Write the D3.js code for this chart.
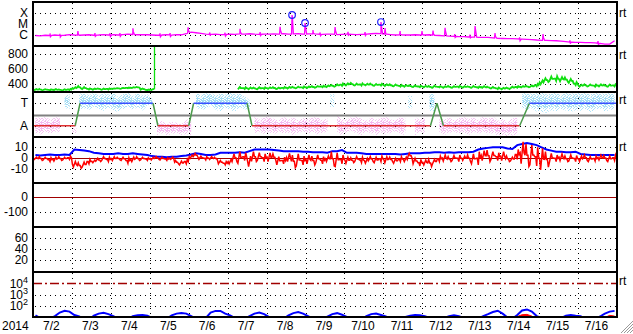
<!DOCTYPE html>
<html><head><meta charset="utf-8">
<script src="https://cdn.jsdelivr.net/npm/d3@7"></script>
<style>
html,body{margin:0;padding:0;background:#fff;}
svg{display:block;}
text{font-family:"Liberation Sans",Arial,sans-serif;font-size:12px;fill:#000;}
</style></head><body>
<svg id="c" width="633" height="334"></svg>
<script>
// ---------- DATA (3-hour bins from 2014-07-02 00:00 UT, 8 bins per day) ----------
const dayLabels = ["7/2","7/3","7/4","7/5","7/6","7/7","7/8","7/9","7/10","7/11","7/12","7/13","7/14","7/15","7/16"];
const yearLabel = "2014";

// X-ray flux, µW/m² (C1 = 1)
const xrayBase = [
 0.9,0.85,0.95,0.9,1.0,0.9,0.95,1.1,
 1.0,0.95,1.0,1.05,0.95,1.0,1.1,1.0,
 1.05,1.0,1.1,1.2,1.1,1.05,1.0,1.05,
 1.0,0.95,1.0,1.05,1.0,1.1,1.05,1.3,
 1.8,1.6,1.4,1.2,1.15,1.2,1.1,1.15,
 1.2,1.15,1.25,1.2,1.3,1.2,1.15,1.2,
 1.2,1.25,1.2,1.3,1.2,1.25,1.3,1.2,
 1.25,1.3,1.2,1.15,1.2,1.2,1.1,1.15,
 1.2,1.15,1.1,1.15,1.2,1.3,1.4,1.3,
 1.2,1.1,1.0,1.05,1.0,1.0,1.05,1.0,
 1.0,1.05,0.95,0.9,0.85,0.8,0.75,0.7,
 0.7,0.66,0.65,0.62,0.6,0.6,0.55,0.5,
 0.48,0.47,0.46,0.45,0.42,0.4,0.38,0.35,
 0.33,0.32,0.31,0.3,0.28,0.25,0.22,0.21,
 0.21,0.2,0.2,0.19,0.17,0.15,0.15,0.3];
// X-ray spikes: [hour, peak µW/m²]
const xraySpikes = [[10.5,1.4],[16.6,1.3],[27.7,2.3],[38.2,1.5],[47.5,1.45],[53.6,1.5],[61.6,4.0],[78.3,1.4],[84.5,1.5],[95.6,5.0],[109,1.7],[118.4,1.6],[127.6,3.7],[140,1.8],[152.3,5.6],[159.7,66],[167.7,12.3],[172.6,2.85],[177,1.7],[186.2,5.3],[194.2,1.9],[204.7,1.8],[214.5,15],[217,4.3],[226.3,2.3],[239.8,2.3],[246.6,2.5],[254,4.6],[260,1.2],[269.4,1.1],[272.5,6.6],[284.8,1.5],[300,0.6],[314.4,1.2],[331,0.32],[348.3,0.28]];

// Solar wind speed km/s (min / max per bin)
const speedLo = [
 325,322,326,320,324,322,320,325,
 340,345,338,332,330,334,330,332,
 340,342,345,348,352,355,330,322,
 325,null,null,null,null,null,null,null,
 null,null,null,null,null,null,null,null,
 null,null,335,338,335,338,336,340,
 340,342,340,345,345,348,350,350,
 352,355,360,362,365,370,375,380,
 385,388,385,384,386,382,380,384,
 378,376,374,370,368,366,364,362,
 360,358,356,360,355,358,356,360,
 356,358,355,352,355,350,345,338,
 335,338,348,356,360,362,365,375,
 400,430,440,445,440,435,420,390,
 370,372,375,370,372,374,370,372];
const speedHi = [
 338,340,336,335,338,334,336,340,
 362,378,365,348,345,346,344,348,
 348,350,354,358,362,366,345,332,
 340,null,null,null,null,null,null,null,
 null,null,null,null,null,null,null,null,
 null,null,365,362,360,358,362,360,
 360,362,358,365,366,368,370,372,
 372,375,378,382,385,392,400,410,
 412,418,410,412,408,410,405,408,
 402,400,398,392,390,388,385,382,
 380,378,382,376,374,378,376,380,
 376,374,378,372,375,370,365,358,
 355,358,370,376,378,380,385,405,
 450,480,500,505,495,490,470,430,
 395,400,398,396,400,395,398,400];
const speedSpikes = [[74.6,920]];

// IMF longitude angle (deg), min / max per bin
const angLo = [
 75,65,85,70,90,80,285,255,
 70,250,275,262,290,268,255,280,
 260,245,270,290,262,285,258,295,
 290,60,75,58,70,80,62,70,
 55,285,260,272,295,265,250,278,
 262,250,285,268,260,75,90,70,
 85,65,90,72,80,60,78,92,
 70,88,62,80,90,285,75,60,
 85,95,70,62,88,75,60,82,
 65,80,92,70,60,275,55,88,
 75,255,250,80,62,78,90,70,
 85,60,88,72,90,65,78,58,
 55,50,58,65,280,255,275,250,
 248,240,262,250,270,258,245,262,
 255,268,245,260,275,250,262,270];
const angHi = [
 210,195,205,185,200,212,370,392,
 160,392,400,380,398,375,395,385,
 398,365,390,400,372,398,380,388,
 350,150,175,155,168,160,150,185,
 185,400,382,395,400,378,398,385,
 400,388,395,372,340,210,185,200,
 215,190,178,205,185,200,180,195,
 190,200,210,182,195,388,215,185,
 185,205,212,190,178,200,185,198,
 205,185,180,210,195,375,205,182,
 210,400,390,205,185,200,180,195,
 205,190,200,182,208,190,212,175,
 190,170,195,200,395,400,392,400,
 400,385,395,400,382,398,390,400,
 395,400,388,398,400,385,400,395];
// Sector polarity: hours and state
const sectorHours = [0,26,29,74,77,96,99,132,135,245,249,253,300,306,360];
const sectorState = ["A","A","T","T","A","A","T","T","A","A","T","A","A","T","T"];

// IMF Bz (min/max) and Bt, nT
const bzLo = [
 -1,-2,-1.5,-3,-2.5,-2,-1.5,-1,
 -8,-9,-8,-5,-4,-3,-2,-3,
 -2,-1.5,-2,-4.5,-3,-2,-1.5,-2,
 -1.5,-1,-1.5,-2,-1,-5,-6,-5,
 0,1,-1,-1.5,-1,-1.5,-5,-6,
 -5,-3,-4.5,-2,-7.5,-3,-2,-3,
 -3,-2,-6,-5,-3,-8.5,-7,-6,
 -5,-6,-4,-5,-3,-7,-7.5,-5,
 -4.5,-4,-3,-4,-4.5,-3,-4,-3,
 -4,-3,-4.5,-3,-3,0,-5,-7,
 -6,-7.5,-5,-3,-2.5,-3,-2,-3,
 -2,-3,-5,-6,-2,-3,-1,-2,
 -2,-3,-2.5,-1,-5,-7.5,-6,-7,
 -10.5,-8,-4,-3,-2,-3,-2.5,-3,
 -3,-2,-3,-2.5,-1.5,-2,-3,-2];
const bzHi = [
 1,1.5,1,0.5,1,1.5,1,2,
 -3,-4,-3.5,-1,-1.5,0,1.5,1,
 1.5,1,1,0.5,1,1.5,1,0.5,
 1,1.5,1,0.5,1,-2,-2.5,-1,
 3,4.5,2,1.5,1.5,1,-2,-3,
 -1,4,6,5,2,6,5,4,
 5,4,1.5,1,4.5,3,4,2,
 3,2,3,1.5,2,6,5,3,
 1,0.5,1.5,1,0,1.5,1,2,
 1.5,1,0,1.5,1,4.5,0,-1,
 -1.5,-1,-1,2,3,1.5,2.5,3,
 2,3,4,6,7,7.5,6,5,
 6,2,1,8,15,13,12,10,
 9,6,4.5,3,4,2,3,2.5,
 2,3,1.5,2,3,2.5,2,3];
const bt = [
 3,2.5,3,3.5,3,3,3.5,3,
 8,7.5,7,6.5,5,4.5,4,4,
 4,4.5,4,4,4.5,4,3.5,3,
 2,1.5,1.5,1,1.5,1.5,2,2.5,
 3.5,4.5,4,3,3,3.5,5,5,
 5,5,5.5,5,6.5,8,8,8,
 8,7.5,7,6.5,6.5,6.5,6.5,6,
 6,5.5,5.5,5.5,5,6.5,6.5,7.5,
 5,5,5,4.5,4,4,4,4,
 4,4,4,3.5,4,4.5,4.5,4.5,
 5,5,5.5,5.5,5,5.5,5,5.5,
 5.5,5.5,6,8,9,9.5,10,10,
 10,9,8.5,12,13,14,13,12,
 10,8,7,6,6,5.5,5.5,6,
 4,3.5,3,3,3,3,3,3];

// Electron flux (blue) and second channel (red)
const eFlux = [
 14,8,6,7,12,25,35,30,
 15,11,7,6,13,20,24,18,
 12,7,6,6,12,14,15,13,
 8,6,6,7,14,20,23,20,
 12,7,6,8,25,35,35,20,
 14,8,6,7,12,20,25,18,
 10,7,6,7,14,22,28,20,
 12,7,6,6,11,18,22,16,
 10,7,6,6,12,18,20,15,
 11,7,6,6,10,13,15,14,
 12,8,6,6,8,12,14,12,
 8,6,6,7,12,18,28,36,
 20,9,7,15,38,47,30,12,
 8,6,6,6,8,13,15,13,
 12,7,6,7,11,20,30,35];
const eFlux2 = [
 5,5,5,5,5,5,5,5, 5,5,5,5,5,5,5,5, 5,5,5,5,5,5,5,5,
 5,5,5,5,5,5,5,5, 5,5,5,5,5,5,5,5, 5,5,5,5,5,5,5,5,
 5,5,5,5,5,5,5,5, 5,5,5,5,5,5,5,5, 5,5,5,5,5,5,5,5,
 5,5,5,5,5,5,5,5, 5,5,5,5,5,5,5,5, 5,5,5,5,5,5,5,5,
 5,5,5,11,16,17,12,5, 5,5,5,5,5,5,5,5, 5,5,5,5,5,9,14,12];

// tick labels
const xrayTicks = [100,10,1], xrayTickLabels = ["X","M","C"];
const speedTicks = [800,600,400];
const sectorTicks = [315,135], sectorTickLabels = ["T","A"];
const imfTicks = [10,0,-10];
const dstTicks = [0,-100];
const p6Ticks = [60,40,20];
const eTicks = [4,3,2]; // powers of ten

// ---------- DRAW ----------
const BIN = 3, L = 33, R = 617;
const t0 = Date.UTC(2014,6,2);
const hr = h => new Date(t0 + h*3600e3);
const x = d3.scaleUtc().domain([hr(0), hr(360)]).range([L, R]);
const xh = h => x(hr(h));

const yX = d3.scaleLog().domain([0.1,1000]).range([46,2]);
const yV = d3.scaleLinear().domain([300,900]).range([92,46]);
const yA = d3.scaleLinear().domain([45,405]).range([137,92]);
const yB = d3.scaleLinear().domain([-22.5,19.4]).range([183,137]);
const yD = d3.scaleLinear().domain([-200,100]).range([227,182]);
const yK = d3.scaleLinear().domain([0,80]).range([271.5,227]);
const yE = d3.scaleLog().domain([10,1e5]).range([317,272]);

const bounds = [2,46,92,137,183,227,272,317];
const svg = d3.select("#c");
const defs = svg.append("defs");
for (let i=0;i<7;i++){
  defs.append("clipPath").attr("id","cp"+i).append("rect")
    .attr("x",L).attr("y",bounds[i]+1).attr("width",R-L).attr("height",bounds[i+1]-bounds[i]-2);
}
// speckle patterns for the angle scatter
function speckle(id, color, cells, size){
  const p = defs.append("pattern").attr("id",id).attr("width",size).attr("height",size)
    .attr("patternUnits","userSpaceOnUse");
  cells.forEach(([a,b])=>p.append("rect").attr("x",a).attr("y",b).attr("width",1).attr("height",1).attr("fill",color));
}
const sparse = [[0,0],[3,0],[5,1],[1,2],[4,2],[2,3],[0,4],[3,4],[5,4],[1,5],[4,5]];
const dense = [[0,0],[1,0],[3,0],[4,0],[2,1],[3,1],[5,1],[0,2],[1,2],[4,2],[5,2],[2,3],[3,3],[5,3],[0,4],[1,4],[3,4],[4,4],[1,5],[2,5],[4,5],[5,5]];
speckle("cyS","#ace2f6",sparse,6); speckle("cyD","#a2dcf4",dense,6);
speckle("pkS","#f6c0f2",sparse,6); speckle("pkD","#f4b8f0",dense,6);

const gGrid = svg.append("g");
const gData = svg.append("g");
const gFrame = svg.append("g");

// vertical day grid
d3.utcDay.range(hr(24), hr(360)).forEach(d=>{
  const xx = Math.round(x(d))+0.5;
  gGrid.append("line").attr("x1",xx).attr("x2",xx).attr("y1",3).attr("y2",317)
    .attr("stroke","#000").attr("stroke-width",1).attr("stroke-dasharray","1,4");
});
function hdot(y){
  const yy = Math.round(y)+0.5;
  gGrid.append("line").attr("x1",L+2).attr("x2",R).attr("y1",yy).attr("y2",yy)
    .attr("stroke","#000").attr("stroke-width",1).attr("stroke-dasharray","1,4");
}
function label(y, t){
  svg.append("text").attr("x",28).attr("y",y+4).attr("text-anchor","end").attr("font-size","11px").text(t);
}
xrayTicks.forEach((v,i)=>{hdot(yX(v)); label(yX(v), xrayTickLabels[i]);});
speedTicks.forEach(v=>{hdot(yV(v)); label(yV(v), v);});
sectorTicks.forEach((v,i)=>{hdot(yA(v)); label(yA(v), sectorTickLabels[i]);});
imfTicks.forEach(v=>{ if(v!==0) hdot(yB(v)); label(yB(v), v);});
dstTicks.forEach(v=>{ if(v!==0) hdot(yD(v)); label(yD(v), v);});
p6Ticks.forEach(v=>{hdot(yK(v)); label(yK(v), v);});
eTicks.forEach(p=>{
  const y = yE(Math.pow(10,p));
  if(p!==4) hdot(y);
  const t = svg.append("text").attr("x",28).attr("y",y+4.5).attr("text-anchor","end").attr("font-size","11px");
  t.append("tspan").text("10");
  t.append("tspan").attr("dy",-5).attr("font-size","9px").text(p);
});

// zero / reference lines
[yB(0), yD(0)].forEach(y=>{
  gGrid.append("line").attr("x1",L).attr("x2",R).attr("y1",Math.round(y)+0.5).attr("y2",Math.round(y)+0.5)
   .attr("stroke","#a00000").attr("stroke-width",1.2);
});
gGrid.append("line").attr("x1",L).attr("x2",R).attr("y1",Math.round(yE(1e4))+0.5).attr("y2",Math.round(yE(1e4))+0.5)
   .attr("stroke","#a00000").attr("stroke-width",1.3).attr("stroke-dasharray","9,3,2,3");

// helpers
const tc = i => i*BIN + BIN/2;
// expands a min/max bin envelope into a jagged trace (5 samples per bin)
const shapes = [["m","l","m","h","m"],["m","h","m","m","l"],["l","m","h","m","m"],["m","m","l","h","m"]];
function jag(lo, hi){
  const pts=[];
  lo.forEach((l,i)=>{
    const h = hi[i];
    if(l==null||h==null){pts.push(null);return;}
    const m = (l+h)/2;
    const s = shapes[i%4];
    [-1.2,-0.6,0,0.6,1.2].forEach((o,k)=>pts.push([tc(i)+o, s[k]==="l"?l:(s[k]==="h"?h:m)]));
  });
  return pts;
}

// ---- Panel 1: X-ray
function baseAt(h){
  const f = (h-BIN/2)/BIN; const i = Math.max(0,Math.min(xrayBase.length-2,Math.floor(f)));
  const u = Math.max(0,Math.min(1,f-i));
  return xrayBase[i]*(1-u)+xrayBase[i+1]*u;
}
let xpts = xrayBase.map((v,i)=>[tc(i),v]);
xraySpikes.forEach(([h,p])=>{
  xpts.push([h-0.3, baseAt(h-0.3)],[h,p],[h+0.25,p*0.5],[h+1.0, baseAt(h+1.0)]);
});
xpts = xpts.filter(d=>!(d[0]>66 && d[0]<68)).sort((a,b)=>a[0]-b[0]);
gData.append("path").attr("clip-path","url(#cp0)")
  .attr("d", d3.line().x(d=>xh(d[0])).y(d=>yX(d[1]))(xpts))
  .attr("fill","none").attr("stroke","#ff00ff").attr("stroke-width",1.3);
xraySpikes.filter(d=>d[1]>=10).forEach(([h,p])=>{
  gData.append("circle").attr("cx",xh(h)).attr("cy",yX(p)).attr("r",3.3)
    .attr("fill","none").attr("stroke","#2020ff").attr("stroke-width",1.2);
});

// ---- Panel 2: speed
gData.append("path").attr("clip-path","url(#cp1)")
  .attr("d", d3.line().defined(d=>d!=null).x(d=>xh(d[0])).y(d=>yV(d[1]))(jag(speedLo,speedHi)))
  .attr("fill","none").attr("stroke","#10e010").attr("stroke-width",1.8);
speedSpikes.forEach(([h,v])=>{
  gData.append("line").attr("clip-path","url(#cp1)").attr("x1",Math.round(xh(h))+0.5).attr("x2",Math.round(xh(h))+0.5)
   .attr("y1",yV(335)).attr("y2",yV(v)).attr("stroke","#10e010").attr("stroke-width",1.3);
});

// ---- Panel 3: IMF angle scatter + sector
function angArea(side, core){
  const def = (i)=> angLo[i]!=null && ((angLo[i]>225)===(side==="T"));
  const area = d3.area().defined((d,i)=>def(i))
    .x((d,i)=>xh(tc(i)))
    .y0((d,i)=>{const l=angLo[i],h=angHi[i]; return yA(core? l+(h-l)*0.25 : l);})
    .y1((d,i)=>{const l=angLo[i],h=angHi[i]; return yA(core? h-(h-l)*0.2 : h);});
  const fill = side==="T" ? (core?"url(#cyD)":"url(#cyS)") : (core?"url(#pkD)":"url(#pkS)");
  gData.append("path").attr("clip-path","url(#cp2)").attr("d",area(angLo)).attr("fill",fill);
}
// single isolated bins get a narrow column so they remain visible
angLo.forEach((l,i)=>{
  const side = l>225;
  const prev = i>0 && (angLo[i-1]>225)===side, next = i<angLo.length-1 && (angLo[i+1]>225)===side;
  if(!prev && !next){
    gData.append("rect").attr("clip-path","url(#cp2)").attr("x",xh(tc(i))-2).attr("width",4)
      .attr("y",yA(angHi[i])).attr("height",yA(l)-yA(angHi[i])).attr("fill", side?"url(#cyS)":"url(#pkS)");
  }
});
angArea("T",false); angArea("A",false); angArea("T",true); angArea("A",true);
gData.append("line").attr("x1",L).attr("x2",R).attr("y1",Math.round(yA(225))+0.5).attr("y2",Math.round(yA(225))+0.5)
  .attr("stroke","#808080").attr("stroke-width",2);
const polVal = s => s==="T"?315:135;
for(let k=0;k<sectorHours.length-1;k++){
  const s1=sectorState[k], s2=sectorState[k+1];
  const col = s1!==s2 ? "#4a9a4a" : (s1==="T" ? "#3a50ff" : "#e03030");
  gData.append("line").attr("x1",xh(sectorHours[k])).attr("x2",xh(sectorHours[k+1]))
    .attr("y1",yA(polVal(s1))).attr("y2",yA(polVal(s2))).attr("stroke",col).attr("stroke-width",1.5);
}

// ---- Panel 4: Bt / Bz
gData.append("path").attr("clip-path","url(#cp3)")
  .attr("d", d3.line().x((d,i)=>xh(tc(i))).y(d=>yB(d))(bt))
  .attr("fill","none").attr("stroke","#0000ff").attr("stroke-width",2);
gData.append("path").attr("clip-path","url(#cp3)")
  .attr("d", d3.line().defined(d=>d!=null).x(d=>xh(d[0])).y(d=>yB(d[1]))(jag(bzLo,bzHi)))
  .attr("fill","none").attr("stroke","#ff0000").attr("stroke-width",1.5);

// ---- Panel 7: electrons
gData.append("path").attr("clip-path","url(#cp6)")
  .attr("d", d3.area().x((d,i)=>xh(tc(i))).y0(317).y1(d=>yE(Math.max(d,1)))(eFlux2))
  .attr("fill","#ff0000").attr("stroke","#ff0000").attr("stroke-width",1);
gData.append("path").attr("clip-path","url(#cp6)")
  .attr("d", d3.line().x((d,i)=>xh(tc(i))).y(d=>yE(Math.max(d,1)))(eFlux))
  .attr("fill","none").attr("stroke","#0000ff").attr("stroke-width",2);

// ---- frame
bounds.forEach(y=>{
  gFrame.append("line").attr("x1",L).attr("x2",R+1).attr("y1",y).attr("y2",y)
    .attr("stroke","#000").attr("stroke-width",2);
});
[L,R].forEach(xx=>{
  gFrame.append("line").attr("x1",xx).attr("x2",xx).attr("y1",1).attr("y2",318)
    .attr("stroke","#000").attr("stroke-width",2);
});

// date labels
svg.append("text").attr("x",2).attr("y",330).text(yearLabel);
dayLabels.forEach((t,i)=>{
  svg.append("text").attr("x",xh(i*24+12)-1).attr("y",330).attr("text-anchor","middle").text(t);
});
// right "rt" markers
[13,55,100,147,281].forEach(y=>{
  svg.append("text").attr("x",619).attr("y",y+4).attr("font-size","11px").text("rt");
});
// resize grip
[0,3,6,9].forEach(o=>{
  svg.append("line").attr("x1",621+o).attr("y1",333).attr("x2",633).attr("y2",321+o)
    .attr("stroke","#999").attr("stroke-width",1);
});
</script>
</body></html>
